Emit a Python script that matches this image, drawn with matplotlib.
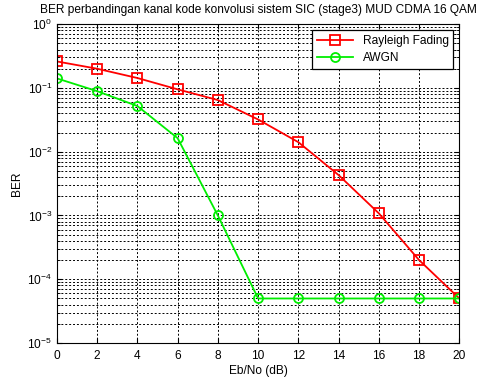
import matplotlib
matplotlib.use('Agg')
import matplotlib.pyplot as plt
from matplotlib.ticker import LogLocator, NullFormatter

plt.rcParams['font.family'] = ['Liberation Sans', 'DejaVu Sans']
plt.rcParams['mathtext.default'] = 'regular'
plt.rcParams['font.size'] = 8.6

ebno = [0, 2, 4, 6, 8, 10, 12, 14, 16, 18, 20]
ber_rayleigh = [0.26, 0.20, 0.143, 0.095, 0.0645, 0.032, 0.0141, 0.0043, 0.00108, 0.0002, 5e-5]
ber_awgn = [0.141, 0.089, 0.052, 0.0163, 0.001, 5e-5, 5e-5, 5e-5, 5e-5, 5e-5, 5e-5]

fig = plt.figure(figsize=(4.82, 3.77), dpi=100)
ax = fig.add_axes([0.118, 0.090, 0.835, 0.846])

ax.semilogy(ebno, ber_rayleigh, '-s', color='red', lw=1.3, ms=6.5,
            mfc='none', mew=1.3, label='Rayleigh Fading')
ax.semilogy(ebno, ber_awgn, '-o', color='#00ee00', lw=1.3, ms=6.5,
            mfc='none', mew=1.3, label='AWGN')

ax.set_xlim(0, 20)
ax.set_ylim(1e-5, 1)
ax.set_xticks(range(0, 21, 2))
ax.yaxis.set_major_locator(LogLocator(base=10, numticks=10))
ax.yaxis.set_minor_locator(LogLocator(base=10, subs=range(2, 10), numticks=20))
ax.yaxis.set_minor_formatter(NullFormatter())

ax.grid(True, which='major', ls=(0, (2, 2)), color='black', lw=0.7)
ax.grid(True, which='minor', axis='y', ls=(0, (2, 2)), color='black', lw=0.7)
ax.tick_params(which='both', direction='in', top=True, right=True, labelsize=8.6)
ax.tick_params(which='minor', length=2)
ax.tick_params(axis='x', pad=5)

ax.set_title('BER perbandingan kanal kode konvolusi sistem SIC (stage3) MUD CDMA 16 QAM',
             fontsize=8.6, pad=8)
ax.set_xlabel('Eb/No (dB)', fontsize=8.6, labelpad=2)
ax.set_ylabel('BER', fontsize=8.6, labelpad=3)

leg = ax.legend(loc='upper right', fontsize=8.6, fancybox=False, framealpha=1,
                edgecolor='black', handlelength=3.0, borderaxespad=0.5,
                labelspacing=0.45)
leg.get_frame().set_linewidth(0.9)

fig.savefig('out.png', dpi=100)
